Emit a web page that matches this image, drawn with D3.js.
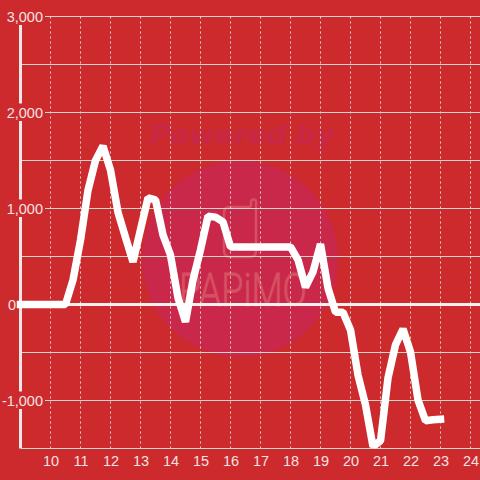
<!DOCTYPE html>
<html>
<head>
<meta charset="utf-8">
<script src="https://cdn.jsdelivr.net/npm/d3@7/dist/d3.min.js"></script>
<style>
html,body{margin:0;padding:0;background:#cc2a2d;}
svg{display:block;}
text{font-family:"Liberation Sans",Arial,sans-serif;}
</style>
</head>
<body>
<svg id="c" width="480" height="480"></svg>
<script>
const hours = [9,9.25,9.5,9.75,10,10.25,10.5,10.75,11,11.25,11.5,11.75,12,12.25,12.5,12.75,13,13.25,13.5,13.75,14,14.25,14.5,14.75,15,15.25,15.5,15.75,16,16.25,16.5,16.75,17,17.25,17.5,17.75,18,18.25,18.5,18.75,19,19.25,19.5,19.75,20,20.25,20.5,20.75,21,21.25,21.5,21.75,22,22.25,22.5,22.75,23];
const values = [0,0,0,0,0,0,0,255,670,1190,1500,1650,1400,960,700,445,780,1110,1090,725,515,70,-180,255,570,920,910,860,600,600,600,600,600,600,600,600,600,465,180,340,630,170,-80,-80,-265,-735,-1045,-1480,-1420,-765,-420,-255,-495,-995,-1210,-1200,-1195];
const yTicks = [3000,2000,1000,0,-1000];
const yGrid = [3000,2500,2000,1500,1000,500,-500,-1000];
const xTicks = [10,11,12,13,14,15,16,17,18,19,20,21,22,23,24];
const watermarkTop = "Powered by";
const watermarkName = "PAPiMO";

const bg = "#cc2a2d", gridCol = "#d6d6cc", labelCol = "#f5e2e2";
const W = 480, H = 480;
const x = d3.scaleLinear().domain([9,24]).range([20.5,470.5]);
const y = d3.scaleLinear().domain([3000,-1500]).range([16.5,448.5]);
const svg = d3.select("#c");

svg.append("rect").attr("width",W).attr("height",H).attr("fill",bg);

// watermark
const wm = svg.append("g");
wm.append("circle").attr("cx",240).attr("cy",259).attr("r",98).attr("fill","#c9284a");
wm.append("text").text(watermarkTop).attr("x",242).attr("y",144).attr("text-anchor","middle")
  .attr("font-size",27).attr("font-weight","bold").attr("font-style","italic")
  .attr("textLength",184).attr("lengthAdjust","spacingAndGlyphs")
  .attr("fill","#c82845").style("font-family","'DejaVu Sans'");
wm.append("text").text(watermarkName).attr("x",243).attr("y",306).attr("text-anchor","middle")
  .attr("font-size",46).attr("textLength",128).attr("lengthAdjust","spacingAndGlyphs")
  .attr("fill","#d65062").attr("stroke","#d65062").attr("stroke-width",0.8)
  .style("font-family","Roboto").style("font-weight",300);
wm.append("path").attr("d","M251 207H230Q224 207 224 213V251Q224 257 230 257H250Q256 257 256 251V202A2.5 2.5 0 0 0 251 202V207")
  .attr("fill","none").attr("stroke","#d65062").attr("stroke-width",2.5);

// grid
svg.append("g").selectAll("line").data(xTicks).join("line")
  .attr("x1",d=>x(d)).attr("x2",d=>x(d)).attr("y1",y(3000)).attr("y2",y(-1500))
  .attr("stroke",gridCol).attr("stroke-width",1).attr("stroke-dasharray","2,3");
svg.append("g").selectAll("line").data(yGrid).join("line")
  .attr("x1",21).attr("x2",W).attr("y1",d=>y(d)).attr("y2",d=>y(d))
  .attr("stroke",gridCol).attr("stroke-width",1);
svg.append("line").attr("x1",21).attr("x2",W).attr("y1",y(-1500)).attr("y2",y(-1500))
  .attr("stroke",gridCol).attr("stroke-width",1);
svg.append("line").attr("x1",21).attr("x2",W).attr("y1",y(0)).attr("y2",y(0))
  .attr("stroke","#f5f0ee").attr("stroke-width",3);

// left axis line
svg.append("line").attr("x1",x(9)).attr("x2",x(9)).attr("y1",y(3000)).attr("y2",y(-1500))
  .attr("stroke","#f0e8e6").attr("stroke-width",3);

// y labels with backing
const fmt = d3.format(",");
const yl = svg.append("g").selectAll("g").data(yTicks).join("g");
yl.append("rect").attr("x",0).attr("width",d=>d===0?17:45).attr("y",d=>y(d)-9).attr("height",17.5).attr("fill",bg);
yl.append("text").text(d=>fmt(d).replace("\u2212","-")).attr("x",d=>d===0?16:43).attr("y",d=>y(d)+5.5)
  .attr("text-anchor","end").attr("font-size",14.5).attr("fill",labelCol);

// x labels
svg.append("g").selectAll("text").data(xTicks).join("text").text(d=>d)
  .attr("x",d=>x(d)+0.5).attr("y",466).attr("text-anchor","middle").attr("font-size",14.5).attr("fill",labelCol);

// series
svg.append("clipPath").attr("id","cp").append("rect").attr("x",0).attr("y",0).attr("width",W).attr("height",y(-1500));
const line = d3.line().x((d,i)=>x(hours[i])).y(d=>y(d));
svg.append("path").datum(values).attr("d",line).attr("clip-path","url(#cp)")
  .attr("fill","none").attr("stroke","#ffffff").attr("stroke-width",7.5)
  .attr("stroke-linecap","square").attr("stroke-linejoin","bevel");
</script>
</body>
</html>
